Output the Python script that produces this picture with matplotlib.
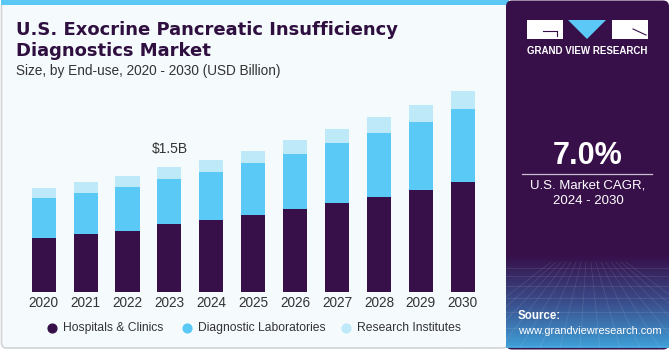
import numpy as np
import matplotlib.pyplot as plt
from matplotlib.patches import Rectangle, FancyBboxPatch, Polygon
from matplotlib.colors import LinearSegmentedColormap

plt.rcParams['font.family'] = ['Liberation Sans', 'DejaVu Sans']

years = ['2020', '2021', '2022', '2023', '2024', '2025', '2026', '2027', '2028', '2029', '2030']
hospitals = [0.652, 0.692, 0.736, 0.816, 0.860, 0.928, 0.992, 1.068, 1.144, 1.224, 1.316]
diag_labs = [0.472, 0.500, 0.520, 0.544, 0.580, 0.616, 0.664, 0.716, 0.764, 0.820, 0.876]
research = [0.120, 0.132, 0.136, 0.140, 0.148, 0.152, 0.168, 0.176, 0.192, 0.204, 0.224]
series_names = ['Hospitals & Clinics', 'Diagnostic Laboratories', 'Research Institutes']
colors = ['#37104a', '#5bc9f5', '#bee9f9']
label_year = '2023'
label_text = '$1.5B'

purple = '#37104a'
W, H = 670, 350
fig = plt.figure(figsize=(W / 100, H / 100), dpi=100)
fig.patch.set_facecolor('white')

# background / decoration axes in pixel coords
bg = fig.add_axes([0, 0, 1, 1], zorder=0)
bg.axis('off')

bg.add_patch(FancyBboxPatch((1.5, 1.5), 506, 346.5, boxstyle='round,pad=0,rounding_size=5',
                            facecolor='#f5fafd', edgecolor='#d2d4d6', linewidth=1.2))
bg.add_patch(Rectangle((1, 0), 508, 4.5, facecolor='#5bc8f5', edgecolor='none'))

# right panel
bg.add_patch(FancyBboxPatch((506, 0.5), 163, 349, boxstyle='round,pad=0,rounding_size=6',
                            facecolor=purple, edgecolor='none'))
grad = np.linspace(0, 1, 100)[:, None]
cm = LinearSegmentedColormap.from_list('g', [purple, '#3a4c8a', '#3f9fd8'])
bg.imshow(grad, extent=[506, 669, 348, 255], cmap=cm, aspect='auto', origin='upper', zorder=1)
# faint grid on the lower panel
for xx in np.linspace(440, 740, 16):
    bg.plot([588 + (xx - 588) * 0.25, xx], [262, 348], color='white', alpha=0.12, lw=0.5, zorder=2)
for yy in [268, 276, 286, 298, 312, 328, 346]:
    bg.plot([506, 669], [yy, yy], color='white', alpha=0.12, lw=0.5, zorder=2)
bg.set_xlim(0, W)
bg.set_ylim(H, 0)

# logo
bg.add_patch(Rectangle((527, 20), 36, 19, facecolor='white', edgecolor='none', zorder=3))
bg.plot([543, 557], [31, 31], color=purple, lw=0.8, zorder=4)
bg.plot([557, 557], [31, 36], color=purple, lw=0.8, zorder=4)
bg.add_patch(Polygon([(568, 20), (606, 20), (587, 39)], closed=True, facecolor='#5bc8f5',
                     edgecolor='none', zorder=3))
bg.add_patch(Rectangle((612, 20), 36, 19, facecolor='white', edgecolor='none', zorder=3))
bg.plot([633, 646], [29, 35], color=purple, lw=0.8, zorder=4)
bg.text(587.5, 51, 'GRAND VIEW RESEARCH', color='white', fontsize=7.0, fontweight='bold',
        ha='center', va='center', zorder=4)

bg.text(588, 156, '7.0%', color='white', fontsize=22, fontweight='bold', ha='center', va='center')
bg.plot([522, 652], [173.5, 173.5], color='#c9bfd0', lw=0.9)
bg.text(588, 186, 'U.S. Market CAGR,', color='white', fontsize=9.5, ha='center', va='center')
bg.text(588, 201, '2024 - 2030', color='white', fontsize=9.5, ha='center', va='center')
bg.text(518, 316, 'Source:', color='white', fontsize=8.3, fontweight='bold', ha='left', va='center',
        zorder=4)
bg.text(518, 331, 'www.grandviewresearch.com', color='white', fontsize=7.9, ha='left', va='center',
        zorder=4)

# titles
title_font = ['DejaVu Sans']
bg.text(16.5, 35, 'U.S. Exocrine Pancreatic Insufficiency', color='#2e0f40', fontsize=13.0,
        fontweight='bold', family=title_font, ha='left', va='baseline')
bg.text(16.5, 56.5, 'Diagnostics Market', color='#2e0f40', fontsize=13.0,
        fontweight='bold', family=title_font, ha='left', va='baseline')
bg.text(16.5, 75, 'Size, by End-use, 2020 - 2030 (USD Billion)', color='#333333', fontsize=9.8,
        ha='left', va='baseline')

# legend
leg_x = [51.7, 186.7, 345.7]
for xm, name, c in zip(leg_x, series_names, colors):
    bg.scatter([xm], [327.7], s=40, color=c, zorder=3)
    bg.text(xm + 11, 327.7, name, color='#333333', fontsize=8.7, ha='left', va='center')

# chart
ax = fig.add_axes([22.75 / W, 58 / H, 461 / W, 216.7 / H], zorder=2)
ax.set_facecolor('none')
x = np.arange(len(years))
bw = 0.575
h = np.array(hospitals)
d = np.array(diag_labs)
r = np.array(research)
ax.bar(x, h, bw, color=colors[0], edgecolor='none')
ax.bar(x, d, bw, bottom=h, color=colors[1], edgecolor='none')
ax.bar(x, r, bw, bottom=h + d, color=colors[2], edgecolor='none')
ax.set_xlim(-0.5, len(years) - 0.5)
ax.set_ylim(0, 2.6)
ax.set_xticks(x)
ax.set_xticklabels(years, fontsize=9.8, color='#333333')
ax.tick_params(axis='x', length=0, pad=3)
ax.set_yticks([])
for s in ax.spines.values():
    s.set_visible(False)
i = years.index(label_year)
ax.text(x[i], (h + d + r)[i] + 0.13, label_text, ha='center', va='bottom', fontsize=10,
        color='#333333')

fig.savefig('out.png', dpi=100)
